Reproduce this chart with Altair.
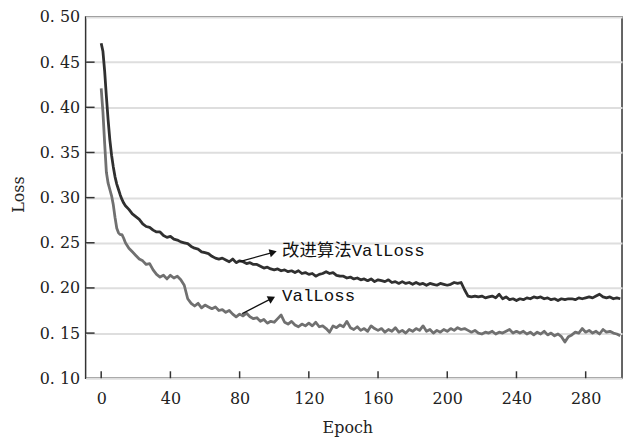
import altair as alt
import pandas as pd

# ---------------- data ----------------
epochs = list(range(0, 15)) + list(range(16, 301, 2))

improved_loss = [
    0.471, 0.462, 0.440, 0.412, 0.386, 0.364, 0.347, 0.334, 0.323, 0.315, 0.309, 0.303, 0.298, 0.294, 0.291,
    0.287, 0.282, 0.279, 0.276, 0.271, 0.268, 0.267, 0.264, 0.262, 0.262,
    0.258, 0.256, 0.257, 0.254, 0.253, 0.251, 0.250, 0.249, 0.246, 0.244,
    0.243, 0.240, 0.239, 0.238, 0.235, 0.233, 0.232, 0.233, 0.231, 0.229,
    0.232, 0.228, 0.230, 0.229, 0.227, 0.228, 0.226, 0.226, 0.224, 0.222,
    0.223, 0.221, 0.220, 0.221, 0.219, 0.220, 0.218, 0.219, 0.217, 0.219,
    0.216, 0.217, 0.215, 0.216, 0.213, 0.215, 0.216, 0.218, 0.216, 0.217,
    0.214, 0.213, 0.213, 0.211, 0.212, 0.210, 0.211, 0.209, 0.210, 0.208,
    0.210, 0.207, 0.209, 0.208, 0.207, 0.209, 0.206, 0.207, 0.205, 0.207,
    0.205, 0.206, 0.204, 0.206, 0.204, 0.205, 0.203, 0.205, 0.204, 0.203,
    0.205, 0.204, 0.203, 0.204, 0.206, 0.205, 0.206, 0.198, 0.191, 0.190,
    0.191, 0.190, 0.191, 0.189, 0.190, 0.191, 0.189, 0.193, 0.188, 0.190,
    0.187, 0.188, 0.186, 0.188, 0.187, 0.189, 0.188, 0.190, 0.189, 0.190,
    0.188, 0.189, 0.187, 0.188, 0.186, 0.188, 0.187, 0.188, 0.188, 0.187,
    0.189, 0.188, 0.189, 0.190, 0.189, 0.191, 0.193, 0.190, 0.189, 0.190,
    0.188, 0.189, 0.188,
]

val_loss = [
    0.421, 0.395, 0.360, 0.328, 0.316, 0.309, 0.302, 0.292, 0.278, 0.266, 0.261, 0.259, 0.259, 0.255, 0.250,
    0.244, 0.240, 0.236, 0.232, 0.230, 0.226, 0.227, 0.220, 0.215, 0.212,
    0.214, 0.210, 0.214, 0.211, 0.213, 0.209, 0.203, 0.188, 0.183, 0.180,
    0.183, 0.178, 0.181, 0.179, 0.177, 0.179, 0.175, 0.176, 0.173, 0.175,
    0.171, 0.168, 0.171, 0.169, 0.172, 0.168, 0.166, 0.167, 0.163, 0.165,
    0.161, 0.163, 0.162, 0.166, 0.170, 0.162, 0.160, 0.163, 0.159, 0.157,
    0.160, 0.158, 0.161, 0.158, 0.162, 0.157, 0.158, 0.155, 0.151, 0.158,
    0.156, 0.159, 0.157, 0.163, 0.156, 0.154, 0.157, 0.153, 0.155, 0.152,
    0.158, 0.155, 0.153, 0.155, 0.151, 0.154, 0.152, 0.156, 0.151, 0.153,
    0.150, 0.154, 0.152, 0.155, 0.153, 0.158, 0.152, 0.154, 0.150, 0.153,
    0.151, 0.154, 0.152, 0.155, 0.153, 0.156, 0.154, 0.155, 0.153, 0.151,
    0.153, 0.150, 0.149, 0.151, 0.150, 0.152, 0.149, 0.151, 0.150, 0.152,
    0.154, 0.150, 0.152, 0.150, 0.152, 0.149, 0.151, 0.148, 0.151, 0.149,
    0.152, 0.148, 0.150, 0.147, 0.149, 0.146, 0.140, 0.146, 0.148, 0.151,
    0.150, 0.155, 0.151, 0.153, 0.150, 0.152, 0.149, 0.154, 0.151, 0.152,
    0.150, 0.149, 0.147,
]

series_names = ["改进算法ValLoss", "ValLoss"]
x_ticks = [0, 40, 80, 120, 160, 200, 240, 280]
y_ticks = [0.10, 0.15, 0.20, 0.25, 0.30, 0.35, 0.40, 0.45, 0.50]

# annotation anchors (data coordinates)
ann_label = ["改进算法ValLoss", "ValLoss"]
ann_text_x = [104.5, 104.5]
ann_text_y = [0.241, 0.191]
ann_tail_x = [80.0, 81.5]
ann_tail_y = [0.229, 0.1715]
ann_head_x = [99.4, 98.6]
ann_head_y = [0.2395, 0.1884]

assert len(epochs) == len(improved_loss) == len(val_loss)

# ---------------- build tables ----------------
df = pd.concat([
    pd.DataFrame({"epoch": epochs, "loss": improved_loss, "series": series_names[0]}),
    pd.DataFrame({"epoch": epochs, "loss": val_loss, "series": series_names[1]}),
])
ann = pd.DataFrame({
    "label": ann_label, "tx": ann_text_x, "ty": ann_text_y,
    "x0": ann_tail_x, "y0": ann_tail_y, "x1": ann_head_x, "y1": ann_head_y,
})
ann["angle"] = [345, 333]

PLOT_W, PLOT_H = 539, 363

xscale = alt.Scale(domain=[-9, 301], nice=False, zero=False)
yscale = alt.Scale(domain=[0.10, 0.50], nice=False, zero=False)

SERIF = "DejaVu Serif"

x_axis = alt.Axis(values=x_ticks, ticks=False, domain=False, grid=False,
                  labelPadding=12, labelFont=SERIF, labelFontSize=16,
                  labelColor="#222", titleFont=SERIF, titleFontSize=16,
                  titleFontWeight="normal", titleColor="#222",
                  titleX=263, titleY=55, titleBaseline="alphabetic",
                  titleAlign="center")
y_axis = alt.Axis(values=y_ticks, ticks=False, domain=False, grid=True,
                  gridColor="#dedede", gridWidth=2,
                  labelExpr="replace(format(datum.value, '.2f'), '.', '. ')",
                  labelPadding=6, labelFont=SERIF, labelFontSize=16,
                  labelColor="#222", titleFont=SERIF, titleFontSize=16,
                  titleFontWeight="normal", titleColor="#222",
                  titleX=-67, titleY=178, titleAngle=-90,
                  titleBaseline="middle", titleAlign="center")


def X(field):
    return alt.X(field, scale=xscale, title="Epoch", axis=x_axis)


def Y(field):
    return alt.Y(field, scale=yscale, title="Loss", axis=y_axis)


lines = alt.Chart(df).mark_line(strokeWidth=2.8, strokeJoin="round").encode(
    x=X("epoch:Q"),
    y=Y("loss:Q"),
    color=alt.Color("series:N", legend=None,
                    scale=alt.Scale(domain=series_names, range=["#303030", "#707070"])),
    detail="series:N",
)

ytick_marks = alt.Chart(pd.DataFrame({"v": y_ticks[1:-1]})).mark_rule(
    color="#333", strokeWidth=1.5).encode(
    y=Y("v:Q"),
    x=alt.value(0), x2=alt.value(9),
)
xtick_marks = alt.Chart(pd.DataFrame({"v": x_ticks})).mark_rule(
    color="#333", strokeWidth=1.5).encode(
    x=X("v:Q"),
    y=alt.value(PLOT_H), y2=alt.value(PLOT_H - 7),
)

arrows = alt.Chart(ann).mark_rule(color="#111", strokeWidth=1.3).encode(
    x=X("x0:Q"), y=Y("y0:Q"),
    x2="x1:Q", y2="y1:Q",
)
heads = alt.Chart(ann).mark_point(shape="triangle-right", filled=True, opacity=1,
                                  color="#111", size=70).encode(
    x=X("x1:Q"), y=Y("y1:Q"),
    angle=alt.Angle("angle:Q", scale=None),
)
labels = alt.Chart(ann).mark_text(align="left", baseline="middle",
                                  font="Liberation Mono, Noto Sans CJK SC",
                                  fontSize=17.5, color="#111").encode(
    x=X("tx:Q"), y=Y("ty:Q"),
    text="label:N",
)

chart = alt.layer(lines, ytick_marks, xtick_marks, arrows, heads, labels).properties(
    width=PLOT_W, height=PLOT_H,
    autosize=alt.AutoSizeParams(type="none"),
    padding={"left": 78, "top": 8, "right": 3, "bottom": 59},
    background="white",
).configure_view(stroke="#333", strokeWidth=1.5)

chart.save("out.html", embed_options={"renderer": "svg", "actions": False})
